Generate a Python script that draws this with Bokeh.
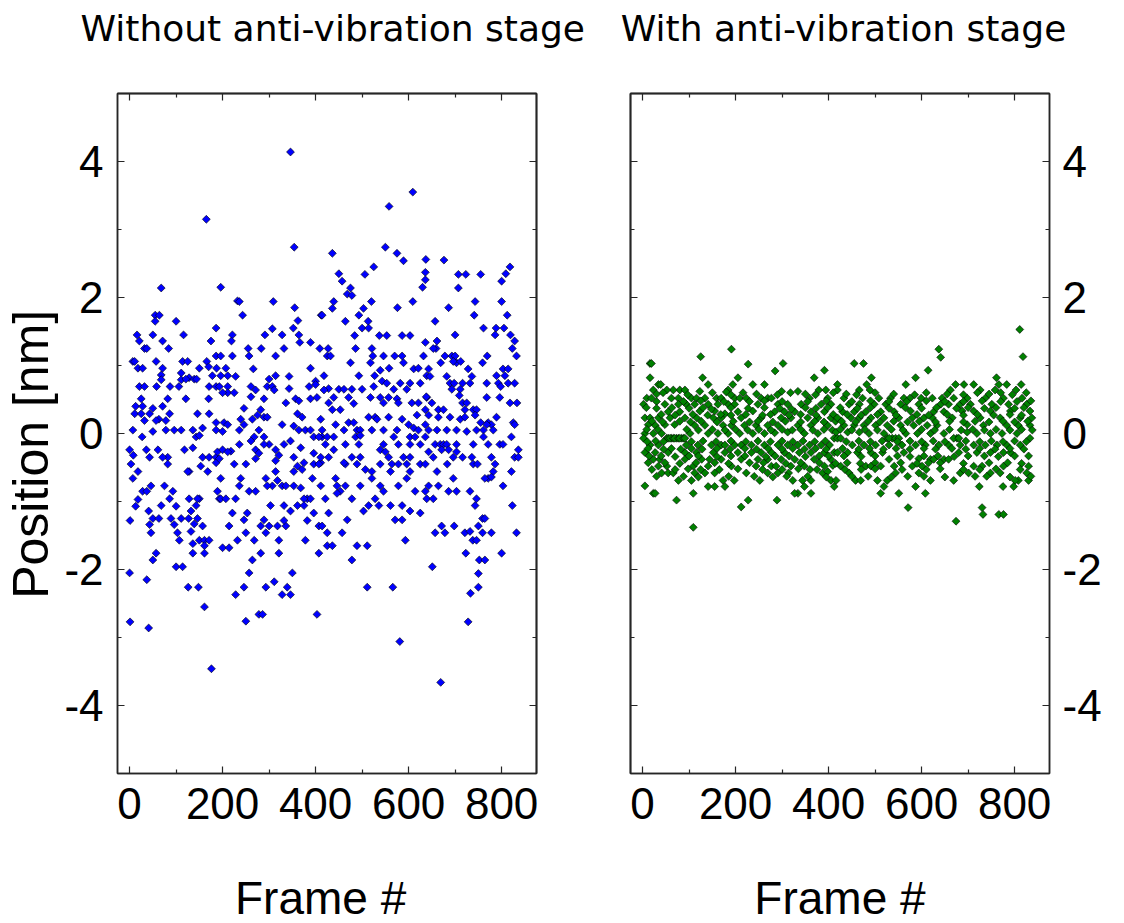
from bokeh.plotting import figure
from bokeh.models import Range1d, FixedTicker, LinearAxis
from bokeh.layouts import row
from bokeh.embed import file_html
from bokeh.resources import INLINE

# ---------------- data (frame #, position [nm]) ----------------
left_seg1 = [
(165,3.15),(68,2.14),(55,1.74),(64,1.74),(55,1.65),(100,1.65),(186,1.55),(16,1.45),(50,1.45),(116,1.45),
(21,1.36),(71,1.36),(175,1.36),(32,1.25),(37,1.25),(84,1.25),(186,1.14),(7,1.06),(11,1.06),(57,1.06),
(114,1.06),(125,1.06),(166,1.06),(18,0.96),(28,0.96),(71,0.96),(150,0.96),(170,0.98),(187,0.96),(68,0.86),
(128,0.82),(111,0.89),(178,0.85),(68,0.79),(111,0.79),(121,0.80),(139,0.80),(144,0.80),(21,0.69),(32,0.69),
(58,0.69),(87,0.69),(106,0.69),(171,0.69),(186,0.69),(82,0.51),(121,0.51),(170,0.51),(25,0.51),(13,0.40),
(28,0.40),(71,0.40),(50,0.37),(11,0.29),(25,0.29),(43,0.29),(86,0.29),(146,0.29),(171,0.29),(32,0.19),
(63,0.21),(57,0.19),(78,0.19),(96,0.05),(111,0.05),(136,0.05),(7,0.05),(50,0.03),(78,0.05),(157,0.08),
(186,0.05),(27,-0.05),(143,-0.05),(150,-0.03),(0,-0.24),(8,-0.32),(36,-0.24),(61,-0.24),(82,-0.35),(71,-0.35),
(118,-0.24),(136,-0.21),(157,-0.35),(171,-0.35),(186,-0.35),(3,-0.45),(43,-0.35),(18,-0.56),(82,-0.45),(128,-0.56),
(153,-0.48),(186,-0.43),(7,-0.66),(125,-0.56),(168,-0.56),(28,-0.85),(46,-0.77),(75,-0.77),(93,-0.85),(150,-0.96),
(189,-0.85),(18,-0.97),(37,-0.85),(86,-0.96),(128,-0.96),(146,-0.96),(193,-0.96),(13,-1.07),(41,-1.14),(68,-1.06),
(100,-1.07),(132,-1.14),(143,-1.06),(1,-1.28),(50,-1.25),(63,-1.25),(89,-1.25),(111,-1.25),(127,-1.25),(139,-1.33),
(43,-1.34),(96,-1.34),(146,-1.25),(46,-1.46),(103,-1.46),(132,-1.44),(157,-1.36),(107,-1.57),(150,-1.57),(161,-1.57),
(171,-1.57),(161,-1.65),(136,-1.62),(57,-1.76),(50,-1.86),(136,-1.76),(161,-1.76),(100,-1.96),(114,-1.96),(0,-2.05),
(37,-2.15),(126,-2.26),(148,-2.26),(161,-2.55),(1,-2.77),(41,-2.86),(176,-3.46),
]

left_seg2 = [
(346,4.14),(354,2.74),(196,2.15),(232,1.95),(236,1.94),(309,1.94),(243,1.74),(355,1.85),(412,1.74),(362,1.66),
(352,1.55),(307,1.54),(291,1.45),(328,1.45),(221,1.45),(219,1.36),(364,1.45),(366,1.34),(389,1.34),(409,1.25),
(255,1.25),(283,1.25),(332,1.25),(221,1.14),(257,1.14),(314,1.14),(196,1.14),(266,0.95),(389,0.96),(207,0.96),
(343,0.84),(400,0.77),(314,0.85),(300,0.80),(211,0.85),(228,0.84),(196,0.85),(193,0.69),(211,0.69),(261,0.69),
(296,0.69),(307,0.69),(343,0.66),(386,0.69),(400,0.72),(418,0.85),(211,0.60),(200,0.60),(225,0.60),(336,0.45),
(271,0.64),(311,0.64),(357,0.51),(364,0.48),(389,0.51),(403,0.53),(246,0.37),(282,0.35),(261,0.54),(289,0.51),
(275,0.27),(289,0.24),(296,0.24),(264,0.21),(361,0.29),(371,0.24),(411,0.21),(186,0.16),(203,0.16),(211,0.13),
(200,0.03),(236,0.05),(246,0.13),(239,0.21),(278,0.05),(328,0.13),(353,0.11),(364,0.05),(378,0.05),(389,0.05),
(414,0.05),(268,-0.05),(289,-0.05),(300,-0.16),(289,-0.16),(346,-0.11),(332,-0.16),(261,-0.11),(396,-0.05),(414,-0.05),
(189,-0.27),(218,-0.26),(200,-0.24),(211,-0.27),(236,-0.16),(271,-0.24),(314,-0.24),(278,-0.29),(321,-0.32),(368,-0.21),
(396,-0.29),(193,-0.37),(225,-0.45),(250,-0.45),(314,-0.40),(271,-0.37),(353,-0.35),(361,-0.48),(375,-0.43),(396,-0.45),
(411,-0.43),(371,-0.53),(353,-0.56),(196,-0.66),(236,-0.77),(239,-0.66),(293,-0.66),(314,-0.56),(318,-0.69),(393,-0.66),
(411,-0.77),(196,-0.96),(207,-0.96),(228,-0.96),(257,-0.85),(271,-0.85),(307,-0.77),(296,-0.77),(328,-0.77),(336,-0.77),
(353,-0.77),(368,-0.80),(382,-0.96),(389,-0.96),(375,-0.96),(303,-1.06),(361,-1.06),(346,-1.14),(332,-1.06),(396,-1.17),
(375,-1.06),(221,-1.17),(253,-1.17),(246,-1.27),(214,-1.36),(250,-1.46),(232,-1.57),(282,-1.36),(293,-1.46),(289,-1.27),
(300,-1.36),(318,-1.36),(336,-1.36),(332,-1.28),(321,-1.57),(382,-1.28),(407,-1.36),(414,-1.36),(268,-1.57),(378,-1.57),
(200,-1.68),(214,-1.68),(282,-1.76),(321,-1.76),(407,-1.76),(264,-1.86),(257,-2.05),(350,-2.05),(246,-2.26),(228,-2.37),
(293,-2.26),(311,-2.18),(328,-2.37),(346,-2.37),(339,-2.26),(278,-2.66),(286,-2.66),(250,-2.76),(403,-2.66),
]

left_seg3 = [
(609,3.55),(558,3.34),(436,2.65),(550,2.74),(575,2.65),(589,2.54),(637,2.56),(525,2.45),(506,2.34),(450,2.35),
(457,2.24),(475,2.14),(468,2.05),(478,2.03),(636,2.37),(630,2.15),(439,1.94),(436,1.84),(414,1.74),(503,1.84),
(520,1.94),(576,1.85),(609,1.94),(636,2.26),(464,1.65),(493,1.74),(500,1.55),(513,1.65),(514,1.55),(484,1.44),
(537,1.44),(553,1.44),(586,1.44),(603,1.44),(636,1.34),(427,1.25),(425,1.14),(432,1.14),(486,1.25),(521,1.25),
(523,1.14),(546,1.14),(570,1.14),(586,1.14),(589,1.04),(632,1.14),(475,1.04),(518,1.04),(539,0.93),(558,0.96),
(611,0.95),(621,0.96),(639,0.85),(493,0.85),(527,0.85),(543,0.77),(553,0.74),(582,0.74),(603,0.74),(625,0.74),
(428,0.66),(450,0.65),(461,0.65),(478,0.65),(500,0.65),(525,0.69),(568,0.65),(596,0.65),(418,0.64),(439,0.53),
(471,0.53),(518,0.53),(539,0.53),(557,0.53),(575,0.51),(578,0.45),(607,0.45),(621,0.45),(639,0.53),(482,0.44),
(436,0.35),(453,0.35),(428,0.45),(546,0.45),(514,0.24),(528,0.24),(532,0.21),(557,0.24),(586,0.21),(618,0.27),
(636,0.35),(443,0.13),(471,0.16),(482,0.16),(489,0.05),(496,0.05),(521,0.05),(546,0.05),(575,0.05),(600,0.13),
(611,0.08),(621,0.05),(636,0.13),(407,-0.05),(425,-0.05),(439,-0.05),(461,0.05),(486,-0.05),(496,-0.03),(568,-0.05),
(603,-0.05),(614,-0.05),(636,-0.05),(421,-0.16),(464,-0.16),(493,-0.16),(546,-0.16),(578,-0.16),(603,-0.16),(625,-0.16),
(411,-0.35),(428,-0.35),(439,-0.24),(464,-0.45),(478,-0.35),(496,-0.35),(539,-0.24),(550,-0.27),(557,-0.35),(564,-0.45),
(578,-0.45),(589,-0.35),(596,-0.45),(603,-0.35),(625,-0.45),(636,-0.45),(407,-0.45),(461,-0.43),(489,-0.45),(507,-0.53),
(521,-0.56),(539,-0.45),(561,-0.56),(443,-0.66),(446,-0.77),(453,-0.85),(464,-0.77),(496,-0.77),(521,-0.66),(539,-0.77),
(578,-0.77),(596,-0.66),(603,-0.56),(614,-0.85),(636,-0.85),(421,-0.96),(446,-0.88),(478,-0.96),(528,-0.96),(536,-1.06),
(546,-0.85),(561,-1.06),(586,-1.06),(603,-1.14),(625,-1.17),(428,-1.17),(468,-1.27),(503,-1.14),(514,-1.06),(571,-1.27),
(586,-1.27),(425,-1.46),(457,-1.46),(593,-1.57),(425,-1.65),(436,-1.65),(478,-1.86),(489,-1.65),(511,-1.65),(511,-2.26),
(566,-2.26),(581,-3.06),
]

left_seg4 = [
(676,2.55),(707,2.34),(723,2.34),(755,2.34),(707,2.14),(818,2.45),(809,2.35),(800,2.24),(686,1.85),(657,1.65),
(743,1.94),(741,1.74),(800,1.94),(812,1.74),(761,1.55),(788,1.55),(786,1.45),(805,1.55),(700,1.45),(819,1.45),
(828,1.36),(661,1.36),(659,1.25),(653,1.25),(823,1.25),(832,1.14),(669,1.04),(678,1.14),(693,1.14),(700,1.14),
(703,1.04),(696,1.06),(712,1.06),(728,0.95),(736,0.84),(759,1.04),(769,1.14),(803,0.95),(814,0.95),(789,0.85),
(807,0.85),(643,0.95),(646,0.84),(682,0.84),(689,0.74),(698,0.74),(716,0.74),(732,0.74),(768,0.74),(793,0.74),
(798,0.69),(814,0.74),(828,0.74),(693,0.65),(711,0.65),(709,0.56),(716,0.45),(725,0.45),(739,0.35),(746,0.35),
(721,0.35),(768,0.53),(796,0.53),(818,0.45),(833,0.45),(638,0.54),(650,0.45),(664,0.35),(675,0.35),(643,0.27),
(664,0.24),(689,0.24),(711,0.21),(721,0.24),(743,0.27),(755,0.16),(771,0.16),(778,0.13),(789,0.24),(768,0.13),
(825,0.16),(828,0.13),(643,0.05),(661,0.05),(682,0.05),(703,0.05),(725,0.03),(746,0.05),(761,0.05),(782,0.05),
(821,-0.05),(761,-0.05),(657,-0.16),(668,-0.16),(675,-0.16),(682,-0.16),(671,-0.24),(686,-0.24),(703,-0.16),(739,-0.16),
(771,-0.16),(796,-0.16),(803,-0.16),(836,-0.24),(643,-0.27),(653,-0.35),(703,-0.27),(716,-0.35),(696,-0.35),(736,-0.35),
(778,-0.35),(786,-0.45),(828,-0.35),(836,-0.35),(661,-0.56),(683,-0.45),(739,-0.45),(748,-0.45),(782,-0.56),(821,-0.56),
(771,-0.66),(764,-0.66),(778,-0.64),(643,-0.77),(664,-0.77),(696,-0.66),(803,-0.77),(639,-0.96),(653,-0.96),(686,-0.85),
(703,-0.85),(732,-0.85),(746,-0.96),(743,-1.06),(823,-1.06),(657,-1.46),(678,-1.46),(671,-1.36),(698,-1.36),(721,-1.46),
(732,-1.44),(738,-1.57),(746,-1.57),(750,-1.36),(759,-1.25),(764,-1.25),(759,-1.46),(778,-1.46),(832,-1.46),(723,-1.76),
(800,-1.76),(752,-1.86),(764,-1.86),(651,-1.96),(750,-2.06),(750,-2.26),(733,-2.35),(728,-2.77),(669,-3.66),
]

right_seg1 = [
(16,1.03),(19,1.03),(16,0.82),(125,1.13),(191,1.24),(227,1.02),(285,0.92),(302,1.03),(391,0.93),(129,0.82),
(141,0.72),(34,0.72),(39,0.72),(23,0.64),(80,0.64),(91,0.64),(66,0.64),(52,0.64),(205,0.82),(194,0.72),
(237,0.72),(262,0.72),(299,0.62),(334,0.62),(369,0.82),(379,0.64),(394,0.64),(419,0.72),(419,0.64),(184,0.64),
(180,0.61),(123,0.62),(2,0.43),(9,0.52),(19,0.52),(62,0.52),(77,0.52),(105,0.52),(116,0.52),(134,0.52),
(159,0.52),(169,0.52),(198,0.52),(209,0.52),(223,0.52),(255,0.52),(269,0.52),(277,0.52),(359,0.52),(398,0.52),
(48,0.43),(77,0.43),(94,0.43),(112,0.43),(141,0.43),(162,0.43),(184,0.43),(198,0.43),(248,0.43),(291,0.43),
(312,0.43),(341,0.43),(384,0.43),(405,0.43),(55,0.32),(80,0.32),(123,0.33),(155,0.33),(177,0.29),(205,0.32),
(237,0.33),(284,0.32),(305,0.32),(327,0.32),(362,0.32),(391,0.32),(5,0.23),(16,0.23),(34,0.23),(59,0.23),
(91,0.23),(116,0.23),(152,0.23),(169,0.23),(212,0.23),(255,0.23),(298,0.23),(319,0.23),(355,0.23),(377,0.23),
(405,0.23),(12,0.13),(27,0.12),(48,0.13),(69,0.13),(112,0.12),(134,0.12),(173,0.12),(191,0.12),(219,0.12),
(244,0.12),(269,0.12),(291,0.12),(334,0.12),(362,0.12),(398,0.12),(5,0.0),(23,0.0),(41,0.0),(62,-0.07),
(73,-0.07),(84,-0.07),(52,-0.07),(55,-0.07),(59,-0.07),(66,-0.07),(69,-0.07),(77,-0.07),(80,-0.07),(88,-0.07),
(91,-0.07),(102,0.0),(141,0.0),(162,0.0),(184,0.0),(209,0.0),(237,0.0),(262,0.0),(284,0.01),(312,0.02),
(348,0.0),(377,0.0),(412,-0.07),(419,-0.07),(2,-0.07),(16,-0.17),(34,-0.17),(94,-0.17),(119,-0.17),(148,-0.17),
(169,-0.17),(177,-0.17),(198,-0.17),(212,-0.17),(234,-0.17),(262,-0.17),(291,-0.17),(312,-0.17),(334,-0.17),(359,-0.17),
(384,-0.17),(402,-0.17),(5,-0.28),(27,-0.28),(55,-0.28),(91,-0.28),(116,-0.28),(152,-0.28),(177,-0.28),(205,-0.28),
(234,-0.28),(255,-0.28),(277,-0.28),(305,-0.28),(337,-0.28),(362,-0.28),(391,-0.28),(412,-0.28),(23,-0.38),(37,-0.38),
(91,-0.38),(127,-0.38),(144,-0.38),(169,-0.38),(212,-0.38),(248,-0.38),(269,-0.38),(298,-0.38),(327,-0.38),(369,-0.38),
(405,-0.38),(34,-0.48),(52,-0.48),(109,-0.48),(141,-0.48),(191,-0.48),(244,-0.48),(277,-0.48),(287,-0.48),(319,-0.48),
(348,-0.48),(391,-0.48),(409,-0.47),(41,-0.58),(55,-0.58),(66,-0.58),(112,-0.58),(134,-0.58),(155,-0.58),(223,-0.58),
(269,-0.58),(291,-0.58),(314,-0.58),(387,-0.58),(398,-0.56),(77,-0.69),(105,-0.69),(173,-0.69),(197,-0.69),(252,-0.69),
(323,-0.69),(344,-0.69),(362,-0.69),(405,-0.69),(5,-0.77),(23,-0.88),(27,-0.88),(73,-0.98),(109,-0.88),(141,-0.78),
(155,-0.78),(177,-0.78),(334,-0.88),(327,-0.88),(348,-0.78),(362,-0.88),(412,-0.78),(212,-1.08),(227,-0.98),(289,-0.98),
(109,-1.38),
]

# further points of the dense band (frames 0-420), read less exactly
right_seg1b = [
(30,0.58),(44,0.60),(97,0.57),(150,0.60),(190,0.57),(216,0.60),(245,0.58),(290,0.57),(318,0.60),(350,0.58),
(372,0.57),(410,0.60),(30,0.47),(88,0.47),(125,0.48),(175,0.47),(230,0.47),(262,0.48),(300,0.47),(355,0.47),
(395,0.48),(8,0.38),(30,0.37),(63,0.38),(100,0.37),(130,0.38),(148,0.36),(190,0.38),(227,0.37),(262,0.38),
(295,0.37),(320,0.36),(350,0.38),(373,0.37),(398,0.38),(40,0.28),(70,0.27),(108,0.28),(140,0.27),(168,0.28),
(190,0.27),(222,0.28),(258,0.27),(275,0.28),(315,0.27),(340,0.28),(373,0.27),(410,0.28),(20,0.18),(43,0.17),
(80,0.18),(103,0.17),(126,0.18),(160,0.17),(195,0.18),(230,0.17),(248,0.18),(280,0.17),(307,0.18),(340,0.17),
(370,0.18),(390,0.17),(415,0.18),(9,0.06),(33,0.06),(95,0.06),(120,0.05),(150,0.06),(177,0.05),(200,0.06),
(226,0.05),(250,0.06),(276,0.05),(300,0.06),(322,0.05),(340,0.06),(366,0.05),(390,0.06),(408,0.05),(10,-0.12),
(28,-0.11),(45,-0.12),(105,-0.12),(130,-0.11),(158,-0.12),(190,-0.11),(222,-0.12),(248,-0.11),(275,-0.12),(300,-0.11),
(323,-0.12),(345,-0.11),(370,-0.12),(393,-0.11),(12,-0.22),(45,-0.23),(62,-0.22),(82,-0.23),(105,-0.22),(128,-0.23),
(160,-0.22),(188,-0.23),(220,-0.22),(245,-0.23),(270,-0.22),(300,-0.23),(323,-0.22),(348,-0.23),(372,-0.22),(395,-0.23),
(14,-0.33),(40,-0.33),(70,-0.34),(100,-0.33),(120,-0.33),(160,-0.34),(190,-0.33),(220,-0.33),(265,-0.34),(285,-0.33),
(315,-0.33),(350,-0.34),(380,-0.33),(400,-0.33),(12,-0.43),(48,-0.43),(80,-0.44),(115,-0.43),(155,-0.43),(185,-0.44),
(230,-0.43),(260,-0.43),(308,-0.44),(340,-0.43),(380,-0.43),(415,-0.44),(20,-0.53),(70,-0.53),(98,-0.52),(125,-0.53),
(165,-0.53),(205,-0.52),(258,-0.53),(300,-0.53),(335,-0.52),(360,-0.53),(375,-0.53),(30,-0.63),(88,-0.63),(120,-0.64),
(185,-0.63),(240,-0.63),(280,-0.64),(310,-0.63),(355,-0.63),(395,-0.64),
]

right_seg2 = [
(811,1.53),(818,1.13),(637,1.24),(641,1.12),(455,1.03),(475,1.03),(614,0.93),(492,0.82),(587,0.82),(566,0.72),
(673,0.72),(691,0.72),(712,0.72),(761,0.82),(766,0.72),(783,0.72),(814,0.72),(466,0.64),(482,0.72),(489,0.64),
(662,0.64),(726,0.64),(758,0.64),(803,0.64),(433,0.52),(473,0.52),(508,0.52),(533,0.52),(562,0.52),(575,0.52),
(599,0.52),(623,0.52),(644,0.52),(669,0.52),(698,0.52),(737,0.52),(776,0.52),(816,0.52),(444,0.43),(466,0.43),
(498,0.43),(523,0.43),(555,0.43),(594,0.43),(641,0.43),(658,0.43),(683,0.43),(705,0.43),(751,0.43),(787,0.43),
(826,0.43),(430,0.32),(455,0.32),(480,0.32),(512,0.32),(541,0.32),(576,0.33),(626,0.32),(648,0.32),(666,0.23),
(687,0.33),(712,0.33),(748,0.33),(791,0.33),(833,0.33),(419,0.23),(448,0.23),(466,0.23),(491,0.23),(519,0.23),
(551,0.23),(580,0.23),(605,0.23),(623,0.23),(726,0.23),(769,0.23),(812,0.23),(837,0.23),(433,0.12),(455,0.12),
(476,0.12),(501,0.12),(526,0.12),(555,0.12),(583,0.12),(612,0.12),(633,0.12),(698,0.13),(733,0.12),(783,0.12),
(808,0.12),(833,0.12),(416,0.02),(441,0.02),(466,0.02),(487,0.0),(519,0.0),(537,-0.07),(566,0.0),(591,0.0),
(619,0.0),(648,0.0),(676,-0.07),(698,0.02),(719,0.0),(748,0.0),(773,0.0),(805,0.0),(833,-0.07),(526,-0.07),
(530,-0.07),(544,-0.07),(551,-0.07),(669,-0.07),(680,-0.07),(426,-0.07),(451,-0.17),(476,-0.17),(501,-0.17),(530,-0.17),
(558,-0.17),(587,-0.17),(608,-0.17),(637,-0.17),(658,-0.17),(683,-0.17),(712,-0.17),(737,-0.17),(762,-0.17),(783,-0.17),
(812,-0.17),(419,-0.28),(441,-0.28),(462,-0.28),(491,-0.28),(516,-0.28),(562,-0.28),(594,-0.37),(619,-0.38),(648,-0.38),
(680,-0.28),(719,-0.28),(748,-0.28),(776,-0.28),(791,-0.28),(426,-0.48),(444,-0.58),(480,-0.48),(491,-0.48),(512,-0.48),
(530,-0.38),(541,-0.48),(580,-0.48),(601,-0.48),(626,-0.38),(658,-0.38),(712,-0.48),(730,-0.48),(776,-0.48),(830,-0.48),
(416,-0.69),(458,-0.69),(469,-0.69),(505,-0.69),(519,-0.78),(526,-0.69),(544,-0.58),(594,-0.58),(619,-0.69),(669,-0.69),
(683,-0.58),(701,-0.58),(748,-0.58),(769,-0.58),(826,-0.58),(830,-0.69),(808,-0.69),(801,-0.69),(512,-0.88),(551,-0.88),
(587,-0.78),(608,-0.88),(571,-1.09),(724,-0.78),(775,-0.78),(798,-0.78),(730,-1.09),(732,-1.19),(766,-1.19),(776,-1.19),
(674,-1.29),
]

# further points of the dense band (frames 420-840), read less exactly
right_seg2b = [
(438,0.58),(460,0.57),(500,0.60),(540,0.58),(585,0.57),(610,0.60),(655,0.58),(690,0.57),(720,0.60),(745,0.58),
(770,0.60),(795,0.57),(825,0.60),(450,0.47),(490,0.48),(530,0.47),(568,0.47),(610,0.48),(650,0.47),(690,0.47),
(730,0.48),(770,0.47),(805,0.47),(835,0.48),(425,0.38),(462,0.37),(490,0.38),(530,0.37),(565,0.38),(600,0.37),
(632,0.38),(675,0.37),(700,0.38),(735,0.37),(760,0.38),(800,0.37),(820,0.38),(440,0.28),(470,0.27),(505,0.28),
(545,0.27),(590,0.28),(615,0.27),(655,0.28),(690,0.27),(720,0.28),(755,0.27),(790,0.28),(815,0.27),(428,0.18),
(458,0.17),(485,0.18),(510,0.17),(540,0.18),(570,0.17),(595,0.18),(630,0.17),(660,0.18),(690,0.17),(715,0.18),
(745,0.17),(775,0.18),(800,0.17),(828,0.18),(425,0.06),(450,0.05),(478,0.06),(505,0.05),(535,0.06),(560,0.05),
(600,0.06),(628,0.05),(660,0.06),(685,0.05),(710,0.06),(735,0.05),(760,0.06),(790,0.05),(815,0.06),(838,0.05),
(438,-0.12),(465,-0.11),(490,-0.12),(515,-0.11),(548,-0.12),(575,-0.11),(600,-0.12),(625,-0.11),(650,-0.12),(695,-0.11),
(725,-0.12),(750,-0.11),(775,-0.12),(800,-0.11),(825,-0.12),(430,-0.22),(465,-0.23),(488,-0.22),(518,-0.23),(545,-0.22),
(575,-0.23),(605,-0.22),(630,-0.23),(665,-0.22),(695,-0.23),(725,-0.22),(758,-0.23),(790,-0.22),(820,-0.23),(433,-0.33),
(470,-0.34),(500,-0.33),(548,-0.33),(575,-0.34),(605,-0.33),(635,-0.33),(670,-0.34),(700,-0.33),(735,-0.33),(765,-0.34),
(800,-0.33),(830,-0.33),(440,-0.43),(468,-0.44),(500,-0.43),(555,-0.43),(590,-0.44),(615,-0.43),(640,-0.43),(690,-0.44),
(745,-0.43),(785,-0.43),(815,-0.44),(435,-0.53),(470,-0.53),(500,-0.52),(558,-0.53),(610,-0.53),(640,-0.52),(690,-0.53),
(725,-0.53),(760,-0.52),(812,-0.53),(450,-0.63),(485,-0.63),(535,-0.64),(570,-0.63),(605,-0.63),(650,-0.64),(715,-0.63),
(740,-0.63),(790,-0.64),(835,-0.63),
]

x_major = [0, 200, 400, 600, 800]
x_minor = [100, 300, 500, 700]
y_major = [-4, -2, 0, 2, 4]
y_minor = [-3, -1, 1, 3]
y_labels = {-4: "-4", -2: "-2", 0: "0", 2: "2", 4: "4"}

left_title = "Without anti-vibration stage"
right_title = "With anti-vibration stage"
x_label = "Frame #"
y_label = "Position [nm]"

AX = "#262626"
NB = "\u00a0"
THIN = "\u2009"


def base_axis(ax):
    ax.major_tick_out = 0
    ax.minor_tick_out = 0
    ax.axis_line_color = AX
    ax.axis_line_width = 1.5
    ax.major_tick_line_color = AX
    ax.minor_tick_line_color = AX
    ax.major_tick_line_width = 1.2
    ax.minor_tick_line_width = 1.2


def labelled_axis(ax, dim):
    # axis with tick labels: major ticks (long) + minor ticks (short)
    if dim == "x":
        ax.ticker = FixedTicker(ticks=x_major, minor_ticks=x_minor)
    else:
        ax.ticker = FixedTicker(ticks=y_major, minor_ticks=y_minor)
        ax.major_label_overrides = y_labels
    base_axis(ax)
    ax.major_tick_in = 7
    ax.minor_tick_in = 4
    ax.major_label_text_font = "Liberation Sans"
    ax.major_label_text_font_size = "44px"
    ax.major_label_text_color = "black"


def bare_axis(ax, ticks, length):
    # axis on the opposite edge: tick marks only, no tick labels at all
    ax.ticker = FixedTicker(ticks=[], minor_ticks=ticks)
    base_axis(ax)
    ax.major_tick_in = 0
    ax.minor_tick_in = length
    ax.major_label_standoff = 0


def make_panel(title, data, color, side, bl, br, xlab):
    p = figure(frame_width=419, frame_height=680,
               min_border_left=bl, min_border_right=br,
               min_border_top=93, min_border_bottom=150,
               x_range=Range1d(-26, 875), y_range=Range1d(-5, 5),
               y_axis_location=side,
               output_backend="svg", toolbar_location=None)
    p.xgrid.visible = False
    p.ygrid.visible = False
    p.background_fill_color = "white"
    p.border_fill_color = "white"
    p.outline_line_color = AX
    p.outline_line_width = 1.5

    other = "right" if side == "left" else "left"
    opp_major = LinearAxis()
    p.add_layout(opp_major, other)
    opp_minor = LinearAxis()
    p.add_layout(opp_minor, other)
    top_major = LinearAxis()
    p.add_layout(top_major, "above")
    top = LinearAxis()
    p.add_layout(top, "above")

    labelled_axis(p.below[0], "x")
    labelled_axis(getattr(p, side)[0], "y")
    bare_axis(opp_major, y_major, 7)
    bare_axis(opp_minor, y_minor, 4)
    bare_axis(top_major, x_major, 7)
    bare_axis(top, x_minor, 4)

    # the panel title is carried by the outer top axis' label
    top.axis_label = title
    top.axis_label_text_font = "DejaVu Sans"
    top.axis_label_text_font_size = "36px"
    top.axis_label_text_font_style = "normal"
    top.axis_label_text_color = "black"
    top.axis_label_standoff = 45

    xa = p.below[0]
    xa.major_label_standoff = 14
    xa.axis_label = xlab
    xa.axis_label_text_font = "Liberation Sans"
    xa.axis_label_text_font_size = "46px"
    xa.axis_label_text_font_style = "normal"
    xa.axis_label_text_color = "black"
    xa.axis_label_standoff = 50

    ya = getattr(p, side)[0]
    ya.major_label_standoff = 14 if side == "left" else 13

    xs = [d[0] for d in data]
    ys = [d[1] for d in data]
    p.scatter(xs, ys, marker="square", angle=0.785398, size=5.6,
              fill_color=color, line_color="black", line_width=0.6)
    return p, ya


left, lya = make_panel(NB + left_title, left_seg1 + left_seg2 + left_seg3 + left_seg4,
                       "#0000FF", "left", 117, 60, x_label + NB)
lya.axis_label = y_label + NB * 3
lya.axis_label_text_font = "Liberation Sans"
lya.axis_label_text_font_size = "50px"
lya.axis_label_text_font_style = "normal"
lya.axis_label_text_color = "black"
lya.axis_label_standoff = 2

right, rya = make_panel(THIN + right_title, right_seg1 + right_seg1b + right_seg2 + right_seg2b,
                        "#008000", "right", 34, 74, x_label)

layout = row(left, right)
open("out.html", "w").write(file_html(layout, INLINE))
